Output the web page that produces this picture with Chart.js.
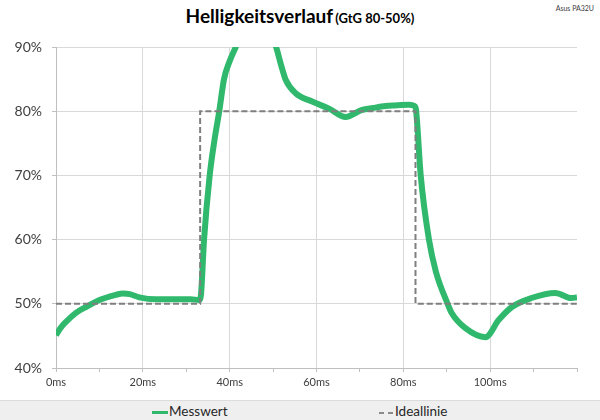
<!DOCTYPE html>
<html>
<head>
<meta charset="utf-8">
<script src="https://cdn.jsdelivr.net/npm/chart.js@4"></script>
<style>
  body { margin: 0; background: #fff; }
  #wrap { position: relative; width: 600px; height: 420px; background: #fff; overflow: hidden; font-family: Lato, "Open Sans", sans-serif; }
  #title { position: absolute; top: 4px; left: 0; width: 600px; text-align: center; color: #000; font-weight: bold; font-size: 19px; white-space: nowrap; }
  #title span { font-size: 13px; margin-left: 2px; }
  #tag { position: absolute; top: 4px; right: 6px; font-size: 7px; color: #404040; }
  #box { position: absolute; left: 0; top: 0; width: 600px; height: 400px; }
  #legend { position: absolute; left: 0; top: 400px; width: 600px; height: 20px; background: #efefef; border-top: 1px solid #dcdcdc; box-sizing: border-box; font-size: 13.5px; color: #262626; }
  .item { position: absolute; top: 1px; line-height: 18px; white-space: nowrap; }
  .mark { display: inline-block; width: 16px; vertical-align: middle; margin-right: 1px; }
  .dash { display: inline-block; width: 5px; vertical-align: middle; border-top: 2px solid #8a8a8a; margin-right: 4px; }
</style>
</head>
<body>
<div id="wrap">
  <div id="title">Helligkeitsverlauf<span>(GtG 80-50%)</span></div>
  <div id="tag">Asus PA32U</div>
  <div id="box"><canvas id="c" width="600" height="400"></canvas></div>
  <div id="legend">
    <div class="item" style="left:152px"><span class="mark" style="border-top:3px solid #30b96d"></span>Messwert</div>
    <div class="item" style="left:379px"><span class="dash"></span><span class="dash" style="margin-right:2px"></span>Ideallinie</div>
  </div>
</div>
<script>
// Messwert (ms / %)
const messTimes = [0, 1, 2.3, 4.6, 6.9, 10, 13.8, 15.4, 17, 19.2, 23, 26, 29, 31, 33, 33.4, 34.1, 35.4, 36.5, 37.6, 38.7, 40, 41.4,
  43, 45, 46.5, 48, 49.5, 50.7, 51.8, 52.9, 55.2, 59, 62.9, 66.7, 70.5, 73, 75.9, 78, 81.3, 82.6, 82.9,
  84, 85.9, 87.5, 90.2, 91.1, 94.3, 98.9, 102, 105, 109.5, 115, 118.7, 120];
const messValues = [45.1, 46.2, 47.2, 48.6, 49.5, 50.6, 51.4, 51.6, 51.5, 51.0, 50.7, 50.7, 50.7, 50.7, 50.6, 51.5, 60, 70, 75.5, 80, 85, 87.8, 90,
  92.5, 94, 94.3, 93.5, 92, 90, 87.3, 84.9, 82.8, 81.5, 80.4, 79.1, 80.2, 80.5, 80.8, 80.9, 81.0, 80.8, 80.3,
  70, 60, 55, 50, 48.6, 46.2, 44.8, 47.5, 49.5, 50.9, 51.7, 50.9, 51.0];

// Ideallinie
const idealTimes = [0, 33.2, 33.2, 82.8, 82.8, 120];
const idealValues = [50, 50, 80, 80, 50, 50];

const xTicks = [0, 20, 40, 60, 80, 100];
const yMin = 40, yMax = 90;

const pts = (xs, ys) => xs.map((x, i) => ({ x: x, y: ys[i] }));

new Chart(document.getElementById('c'), {
  type: 'line',
  data: {
    datasets: [
      { label: 'Ideallinie', data: pts(idealTimes, idealValues), borderColor: '#7f7f7f', borderWidth: 2, borderDash: [6, 3], pointRadius: 0, tension: 0, clip: 0 },
      { label: 'Messwert', data: pts(messTimes, messValues), borderColor: '#30b96d', borderWidth: 6, pointRadius: 0, cubicInterpolationMode: 'monotone', clip: 0 }
    ]
  },
  options: {
    responsive: false,
    animation: false,
    devicePixelRatio: 1,
    layout: { padding: { top: 47, right: 23, left: 0, bottom: 0 } },
    plugins: { legend: { display: false }, tooltip: { enabled: false } },
    scales: {
      x: {
        type: 'linear', min: 0, max: 120,
        afterFit: s => { s.height = 32; },
        border: { color: '#bfbfbf' },
        grid: {
          tickLength: 4,
          color: c => (xTicks.includes(c.tick.value) && c.tick.value > 0) ? '#d9d9d9' : 'rgba(0,0,0,0)',
          tickColor: '#bfbfbf'
        },
        ticks: {
          stepSize: 10, padding: 4, maxRotation: 0, autoSkip: false,
          color: '#404040', font: { family: 'Lato', size: 11 },
          callback: v => xTicks.includes(v) ? v + 'ms' : ''
        }
      },
      y: {
        min: yMin, max: yMax,
        afterFit: s => { s.width = 56; },
        border: { color: '#bfbfbf' },
        grid: { tickLength: 4, color: '#d9d9d9', tickColor: '#bfbfbf' },
        ticks: { stepSize: 10, padding: 10, color: '#404040', font: { family: 'Lato', size: 14 }, callback: v => v + '%' }
      }
    }
  }
});
</script>
</body>
</html>
